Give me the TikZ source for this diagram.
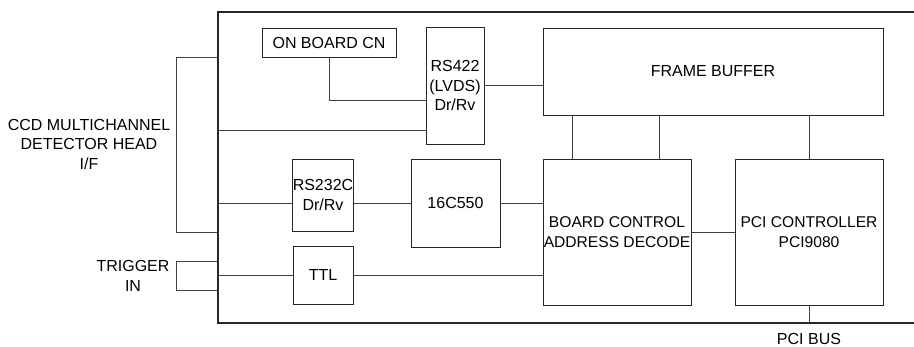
\documentclass[tikz,border=0pt]{standalone}
\usepackage{fontspec}
\setmainfont{Liberation Sans}
\usepackage{tikz}

\begin{document}
\begin{tikzpicture}[x=1pt, y=-1pt]
    % Styling
    \tikzset{
        c_board/.style={color=black!85, line width=1.4pt},
        c_box/.style={draw=black!85, line width=0.8pt, inner sep=0pt, align=center,
            font=\fontsize{16}{19.5}\selectfont},
        c_wide/.style={c_box, font=\fontsize{15.6}{19.5}\selectfont},
        c_wire/.style={color=black!75, line width=0.8pt},
        c_label/.style={inner sep=0pt, align=center, font=\fontsize{16}{19.5}\selectfont}
    }
    \useasboundingbox (0,0) rectangle (914,347);

    % Define points
    \coordinate (bTL) at (218,12);
    \coordinate (bBL) at (218,323);
    \coordinate (p422) at (218,130);
    \coordinate (p232) at (218,203);
    \coordinate (pTTL) at (218,275);

    % Blocks
    \node[c_box, minimum width=134, minimum height=29] (onboard) at (329,42.5) {ON BOARD CN};
    \node[c_box, minimum width=58, minimum height=117] (rs422) at (455,85.5) {RS422\\(LVDS)\\Dr/Rv};
    \node[c_box, minimum width=340, minimum height=87] (fb) at (713,71.5) {FRAME BUFFER};
    \node[c_box, minimum width=60, minimum height=72] (rs232) at (323,195) {RS232C\\Dr/Rv};
    \node[c_box, minimum width=89, minimum height=88] (c550) at (455.5,203) {16C550};
    \node[c_wide, minimum width=148, minimum height=146] (bc) at (617,232) {BOARD CONTROL\\ADDRESS DECODE};
    \node[c_wide, minimum width=148, minimum height=146] (pci) at (809,232) {PCI CONTROLLER\\PCI9080};
    \node[c_box, minimum width=60, minimum height=58] (ttl) at (323,275) {TTL};

    % Draw board outline
    \draw[c_board] (914,12) -- (bTL) -- (bBL) -- (914,323);

    % Draw external connectors
    \draw[c_wire] (218,57) -- (176,57) -- (176,232) -- (218,232);
    \draw[c_wire] (218,261) -- (176,261) -- (176,290) -- (218,290);

    % Draw board wiring
    \draw[c_wire] (onboard.south) |- ([yshift=-14.5pt]rs422.west);
    \draw[c_wire] (p422) -- (p422 -| rs422.west);
    \draw[c_wire] (rs422.east) -- (rs422.east -| fb.west);
    \draw[c_wire] (p232) -- (p232 -| rs232.west);
    \draw[c_wire] (rs232.east |- c550.west) -- (c550.west);
    \draw[c_wire] (c550.east) -- (c550.east -| bc.west);
    \draw[c_wire] (pTTL) -- (ttl.west);
    \draw[c_wire] (ttl.east) -- (ttl.east -| bc.west);
    \draw[c_wire] (bc.east) -- (pci.west);
    \foreach \dx in {30,117} {
        \draw[c_wire] ([xshift=\dx pt]bc.north west) -- ([xshift=\dx pt]bc.north west |- fb.south);
    }
    \draw[c_wire] (pci.north) -- (pci.north |- fb.south);
    \draw[c_wire] (pci.south) -- (pci.south |- bBL);

    % Labels
    \node[c_label] (ccd) at (89,144) {CCD MULTICHANNEL\\DETECTOR HEAD\\I/F};
    \node[c_label] (trig) at (133,276) {TRIGGER\\IN};
    \node[c_label] (pcibus) at (809,339) {PCI BUS};
\end{tikzpicture}
\end{document}
